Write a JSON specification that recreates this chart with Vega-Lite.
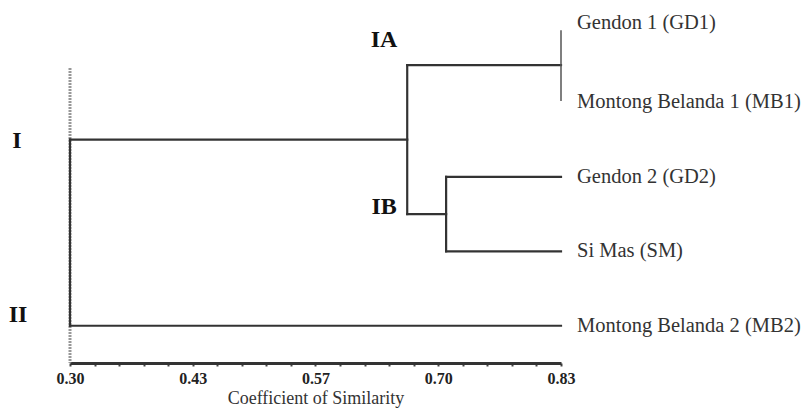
{
  "$schema": "https://vega.github.io/schema/vega-lite/v6.json",
  "width": 491,
  "height": 363,
  "autosize": {"type": "none"},
  "padding": {"left": 70, "top": 0, "right": 245, "bottom": 45},
  "background": "white",
  "config": {"view": {"stroke": null}},
  "datasets": {
    "guide": [{"x": 0.30, "pos": 0.54, "pos2": 4.5}],
    "branches": [
      {"x": 0.30, "x2": 0.30, "pos": 1.5, "pos2": 4},
      {"x": 0.30, "x2": 0.664, "pos": 1.5, "pos2": 1.5},
      {"x": 0.30, "x2": 0.83, "pos": 4, "pos2": 4},
      {"x": 0.664, "x2": 0.664, "pos": 0.5, "pos2": 2.5},
      {"x": 0.664, "x2": 0.83, "pos": 0.5, "pos2": 0.5},
      {"x": 0.664, "x2": 0.706, "pos": 2.5, "pos2": 2.5},
      {"x": 0.706, "x2": 0.706, "pos": 2, "pos2": 3},
      {"x": 0.706, "x2": 0.83, "pos": 2, "pos2": 2},
      {"x": 0.706, "x2": 0.83, "pos": 3, "pos2": 3}
    ],
    "join": [{"x": 0.83, "pos": 0.03, "pos2": 0.98}],
    "leaves": [
      {"name": "Gendon 1 (GD1)", "x": 0.83, "pos": -0.06},
      {"name": "Montong Belanda 1 (MB1)", "x": 0.83, "pos": 1},
      {"name": "Gendon 2 (GD2)", "x": 0.83, "pos": 2},
      {"name": "Si Mas (SM)", "x": 0.83, "pos": 3},
      {"name": "Montong Belanda 2 (MB2)", "x": 0.83, "pos": 4}
    ],
    "clusters": [
      {"label": "I", "x": 0.2428, "pos": 1.52},
      {"label": "II", "x": 0.2439, "pos": 3.85},
      {"label": "IA", "x": 0.639, "pos": 0.16},
      {"label": "IB", "x": 0.639, "pos": 2.4}
    ]
  },
  "encoding": {
    "x": {
      "field": "x",
      "type": "quantitative",
      "scale": {"domain": [0.30, 0.83], "nice": false, "zero": false},
      "axis": {
        "values": [0.3, 0.3265, 0.353, 0.3795, 0.406, 0.4325, 0.459, 0.4855, 0.512, 0.5385, 0.565, 0.5915, 0.618, 0.6445, 0.671, 0.6975, 0.724, 0.7505, 0.777, 0.8035, 0.83],
        "labelExpr": "abs(datum.value-0.3)<0.001 ? '0.30' : abs(datum.value-0.4325)<0.001 ? '0.43' : abs(datum.value-0.565)<0.001 ? '0.57' : abs(datum.value-0.6975)<0.001 ? '0.70' : abs(datum.value-0.83)<0.001 ? '0.83' : ''",
        "grid": false,
        "domainColor": "#333",
        "domainWidth": 3,
        "tickColor": "#444",
        "tickSize": 3,
        "tickWidth": 2,
        "labelFont": "Liberation Serif",
        "labelFontWeight": "bold",
        "labelFontSize": 16,
        "labelColor": "#222",
        "labelPadding": 4,
        "labelOverlap": false,
        "labelFlush": false,
        "title": "Coefficient of Similarity",
        "titleFont": "Liberation Serif",
        "titleFontWeight": "normal",
        "titleFontSize": 18,
        "titleColor": "#333",
        "titlePadding": 3
      }
    },
    "y": {
      "field": "pos",
      "type": "quantitative",
      "scale": {"domain": [-0.375, 4.5], "reverse": true, "nice": false, "zero": false},
      "axis": null
    }
  },
  "layer": [
    {
      "data": {"name": "guide"},
      "mark": {"type": "rule", "color": "#777", "strokeWidth": 3, "strokeDash": [1.5, 1.5]},
      "encoding": {"y2": {"field": "pos2"}}
    },
    {
      "data": {"name": "branches"},
      "mark": {"type": "rule", "color": "#333", "strokeWidth": 2.2, "strokeCap": "square"},
      "encoding": {"x2": {"field": "x2"}, "y2": {"field": "pos2"}}
    },
    {
      "data": {"name": "join"},
      "mark": {"type": "rule", "color": "#555", "strokeWidth": 1.5},
      "encoding": {"y2": {"field": "pos2"}}
    },
    {
      "data": {"name": "leaves"},
      "mark": {"type": "text", "align": "left", "baseline": "middle", "dx": 16, "font": "Liberation Serif", "fontSize": 20.5, "color": "#333"},
      "encoding": {"text": {"field": "name"}}
    },
    {
      "data": {"name": "clusters"},
      "mark": {"type": "text", "align": "center", "baseline": "middle", "font": "Liberation Serif", "fontWeight": "bold", "fontSize": 24, "color": "#111", "clip": false},
      "encoding": {"text": {"field": "label"}}
    }
  ]
}
